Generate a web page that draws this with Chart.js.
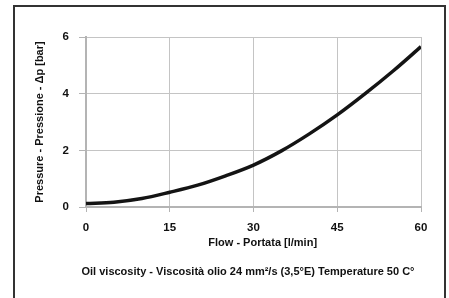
<!DOCTYPE html>
<html lang="en">
<head>
    <meta charset="UTF-8">
    <title>Pressure drop curve</title>
    <script src="https://cdn.jsdelivr.net/npm/chart.js"></script>
    <style>
        html, body {
            margin: 0;
            padding: 0;
            background: #fff;
            overflow: hidden;
        }
        .frame {
            position: absolute;
            left: 13px;
            top: 5px;
            width: 429px;
            height: 310px;
            border: 2px solid #333;
        }
        .wrap {
            position: absolute;
            left: 0;
            top: 0;
            width: 449px;
            height: 298px;
        }
        .note {
            position: absolute;
            left: 0;
            top: 264px;
            width: 496px;
            text-align: center;
            white-space: nowrap;
            font: bold 11px 'Liberation Sans', Arial, sans-serif;
            line-height: 14px;
            color: #111;
        }
    </style>
</head>
<body>
    <div class="frame"></div>
    <div class="wrap"><canvas id="chart" width="449" height="298"></canvas></div>
    <div class="note">Oil viscosity - Viscosità olio 24 mm²/s (3,5°E) Temperature 50 C°</div>
    <script>
        // flow rate [l/min] and pressure drop [bar]
        const flow = [0, 5, 10, 15, 20, 25, 30, 35, 40, 45, 50, 55, 60];
        const pressure = [0.12, 0.17, 0.3, 0.52, 0.77, 1.1, 1.48, 1.98, 2.58, 3.25, 4.0, 4.8, 5.66];
        const xTicks = [0, 15, 30, 45, 60];
        const yTicks = [0, 2, 4, 6];

        const tickFont = { family: "'Liberation Sans', Arial, sans-serif", size: 11.5, weight: 'bold' };
        const titleFont = { family: "'Liberation Sans', Arial, sans-serif", size: 11, weight: 'bold' };

        new Chart(document.getElementById('chart'), {
            type: 'line',
            data: {
                datasets: [{
                    data: flow.map((x, i) => ({ x: x, y: pressure[i] })),
                    borderColor: '#141414',
                    borderWidth: 3.5,
                    pointRadius: 0,
                    cubicInterpolationMode: 'monotone',
                    fill: false
                }]
            },
            options: {
                responsive: false,
                animation: false,
                layout: { padding: { left: 0, right: 28, top: 37, bottom: 0 } },
                plugins: {
                    legend: { display: false },
                    tooltip: { enabled: false }
                },
                scales: {
                    x: {
                        type: 'linear',
                        min: 0,
                        max: 60,
                        afterBuildTicks: s => { s.ticks = xTicks.map(v => ({ value: v })); },
                        afterFit: s => { s.height = 91; },
                        grid: { color: '#c4c4c4', lineWidth: 1, tickLength: 5, tickColor: '#b4b4b4' },
                        border: { color: '#b4b4b4', width: 2 },
                        ticks: { color: '#111', font: tickFont, padding: 9, maxRotation: 0 },
                        title: {
                            display: true,
                            text: '      Flow - Portata [l/min]',
                            color: '#111',
                            font: titleFont,
                            padding: { top: 0, bottom: 48 }
                        }
                    },
                    y: {
                        min: 0,
                        max: 6,
                        afterBuildTicks: s => { s.ticks = yTicks.map(v => ({ value: v })); },
                        afterFit: s => { s.width = 86; },
                        grid: { color: '#c4c4c4', lineWidth: 1, tickLength: 7, tickColor: '#b4b4b4' },
                        border: { color: '#b4b4b4', width: 2 },
                        ticks: { color: '#111', font: tickFont, padding: 10 },
                        title: {
                            display: true,
                            text: 'Pressure - Pressione - Δp [bar]',
                            color: '#111',
                            font: titleFont,
                            padding: { top: 33, bottom: 0 }
                        }
                    }
                }
            }
        });
    </script>
</body>
</html>
